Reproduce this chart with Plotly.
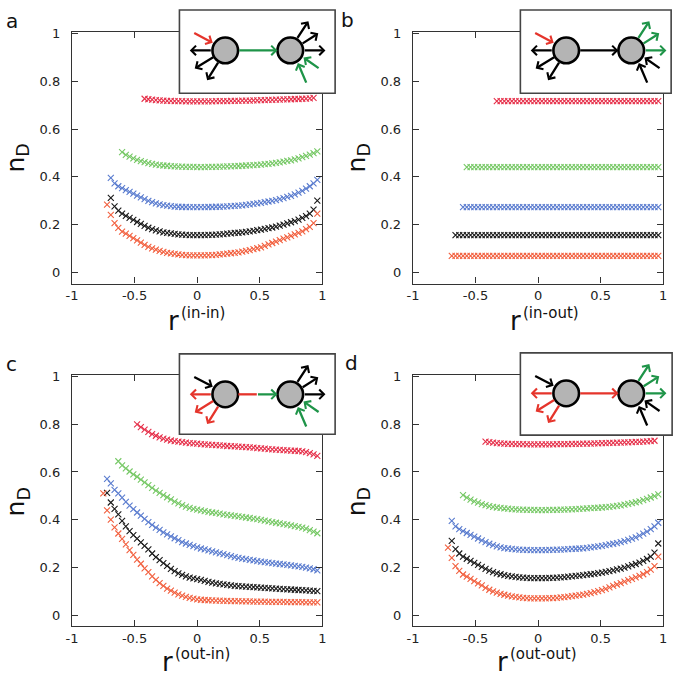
import plotly.graph_objects as go

W, H = 685, 678

# ---------------- data ----------------
r_grid = [-0.75, -0.72, -0.69, -0.66, -0.63, -0.60, -0.57, -0.54, -0.51, -0.48,
          -0.45, -0.42, -0.39, -0.36, -0.33, -0.30, -0.27, -0.24, -0.21, -0.18,
          -0.15, -0.12, -0.09, -0.06, -0.03, 0.00, 0.03, 0.06, 0.09, 0.12,
          0.15, 0.18, 0.21, 0.24, 0.27, 0.30, 0.33, 0.36, 0.39, 0.42,
          0.45, 0.48, 0.51, 0.54, 0.57, 0.60, 0.63, 0.66, 0.69, 0.72,
          0.75, 0.78, 0.81, 0.84, 0.87, 0.90, 0.93, 0.96]

x_ticks = [-1, -0.5, 0, 0.5, 1]
x_ticktext = ["-1", "-0.5", "0", "0.5", "1"]
y_ticks = [0, 0.2, 0.4, 0.6, 0.8, 1]
y_ticktext = ["0", "0.2", "0.4", "0.6", "0.8", "1"]

# panel a (in-in) and d (out-out): same curves
aa_red_start = -0.42
aa_red = [0.727, 0.725, 0.723, 0.721, 0.720, 0.719, 0.718, 0.718, 0.717, 0.717,
          0.717, 0.716, 0.716, 0.716, 0.716, 0.716, 0.716, 0.716, 0.716, 0.717,
          0.717, 0.717, 0.717, 0.718, 0.718, 0.718, 0.719, 0.719, 0.719, 0.720,
          0.720, 0.721, 0.721, 0.722, 0.722, 0.723, 0.723, 0.724, 0.724, 0.725,
          0.726, 0.726, 0.727, 0.728, 0.729, 0.731]
aa_green_start = -0.60
aa_green = [0.503, 0.492, 0.484, 0.477, 0.471, 0.465, 0.461, 0.457, 0.454, 0.451,
            0.449, 0.447, 0.446, 0.444, 0.443, 0.442, 0.442, 0.441, 0.441, 0.441,
            0.440, 0.440, 0.440, 0.441, 0.441, 0.441, 0.442, 0.442, 0.443, 0.443,
            0.444, 0.445, 0.446, 0.447, 0.448, 0.449, 0.450, 0.451, 0.453, 0.454,
            0.456, 0.458, 0.460, 0.463, 0.466, 0.469, 0.473, 0.477, 0.482, 0.487,
            0.493, 0.499, 0.506]
aa_blue_start = -0.69
aa_blue = [0.395, 0.372, 0.360, 0.352, 0.344, 0.336, 0.329, 0.321, 0.313, 0.306,
           0.299, 0.293, 0.288, 0.284, 0.281, 0.279, 0.277, 0.275, 0.274, 0.273,
           0.273, 0.272, 0.272, 0.272, 0.272, 0.272, 0.273, 0.273, 0.274, 0.274,
           0.275, 0.276, 0.277, 0.278, 0.279, 0.280, 0.282, 0.284, 0.286, 0.288,
           0.290, 0.293, 0.296, 0.299, 0.302, 0.306, 0.310, 0.315, 0.320, 0.326,
           0.333, 0.341, 0.350, 0.360, 0.372, 0.387]
aa_black_start = -0.69
aa_black = [0.311, 0.276, 0.258, 0.245, 0.236, 0.227, 0.219, 0.210, 0.202, 0.194,
            0.186, 0.180, 0.175, 0.171, 0.167, 0.164, 0.162, 0.160, 0.158, 0.157,
            0.156, 0.155, 0.155, 0.155, 0.155, 0.155, 0.156, 0.156, 0.157, 0.158,
            0.159, 0.161, 0.162, 0.164, 0.165, 0.167, 0.169, 0.171, 0.173, 0.176,
            0.178, 0.181, 0.184, 0.187, 0.191, 0.195, 0.199, 0.204, 0.209, 0.214,
            0.220, 0.227, 0.235, 0.245, 0.262, 0.300]
aa_orange_start = -0.72
aa_orange = [0.283, 0.240, 0.205, 0.185, 0.170, 0.161, 0.152, 0.142, 0.133, 0.124,
             0.114, 0.106, 0.099, 0.094, 0.089, 0.085, 0.081, 0.078, 0.076, 0.074,
             0.072, 0.071, 0.070, 0.070, 0.070, 0.070, 0.070, 0.071, 0.071, 0.072,
             0.074, 0.075, 0.077, 0.079, 0.081, 0.083, 0.086, 0.089, 0.092, 0.096,
             0.100, 0.104, 0.110, 0.116, 0.122, 0.128, 0.134, 0.140, 0.146, 0.152,
             0.158, 0.164, 0.171, 0.180, 0.190, 0.205, 0.245]

# panel b (in-out): flat curves
b_red_start, b_red = -0.33, [0.717] * 44
b_green_start, b_green = -0.57, [0.440] * 52
b_blue_start, b_blue = -0.60, [0.272] * 53
b_black_start, b_black = -0.66, [0.155] * 55
b_orange_start, b_orange = -0.69, [0.068] * 56

# panel c (out-in)
c_red_start = -0.48
c_red = [0.800, 0.788, 0.778, 0.768, 0.759, 0.752, 0.745, 0.740, 0.736, 0.732,
         0.729, 0.727, 0.725, 0.723, 0.721, 0.720, 0.719, 0.717, 0.716, 0.715,
         0.714, 0.713, 0.712, 0.711, 0.709, 0.708, 0.707, 0.706, 0.705, 0.704,
         0.703, 0.702, 0.700, 0.699, 0.698, 0.696, 0.695, 0.694, 0.693, 0.692,
         0.691, 0.690, 0.689, 0.688, 0.686, 0.683, 0.679, 0.674, 0.668]
c_green_start = -0.63
c_green = [0.645, 0.628, 0.615, 0.602, 0.590, 0.580, 0.568, 0.556, 0.545, 0.533,
           0.522, 0.512, 0.503, 0.494, 0.485, 0.476, 0.468, 0.461, 0.455, 0.449,
           0.445, 0.442, 0.439, 0.436, 0.433, 0.430, 0.428, 0.425, 0.422, 0.420,
           0.418, 0.416, 0.414, 0.412, 0.409, 0.407, 0.404, 0.402, 0.399, 0.396,
           0.393, 0.390, 0.387, 0.384, 0.381, 0.379, 0.376, 0.373, 0.370, 0.367,
           0.362, 0.356, 0.350, 0.343]
c_blue_start = -0.72
c_blue = [0.571, 0.552, 0.525, 0.510, 0.492, 0.475, 0.459, 0.444, 0.430, 0.417,
          0.403, 0.390, 0.378, 0.367, 0.357, 0.347, 0.338, 0.330, 0.322, 0.314,
          0.306, 0.300, 0.294, 0.289, 0.284, 0.279, 0.275, 0.271, 0.267, 0.263,
          0.259, 0.255, 0.251, 0.247, 0.243, 0.240, 0.237, 0.234, 0.231, 0.229,
          0.226, 0.224, 0.222, 0.220, 0.218, 0.216, 0.214, 0.212, 0.210, 0.208,
          0.206, 0.204, 0.202, 0.199, 0.196, 0.192, 0.187]
c_black_start = -0.72
c_black = [0.512, 0.472, 0.445, 0.422, 0.395, 0.372, 0.352, 0.335, 0.320, 0.305,
           0.290, 0.275, 0.258, 0.243, 0.230, 0.218, 0.206, 0.194, 0.184, 0.175,
           0.168, 0.162, 0.157, 0.154, 0.151, 0.147, 0.143, 0.139, 0.136, 0.133,
           0.131, 0.129, 0.126, 0.124, 0.122, 0.121, 0.120, 0.119, 0.118, 0.117,
           0.116, 0.115, 0.114, 0.113, 0.112, 0.111, 0.110, 0.109, 0.108, 0.107,
           0.106, 0.105, 0.104, 0.103, 0.102, 0.101, 0.100]
c_orange_start = -0.75
c_orange = [0.510, 0.439, 0.400, 0.368, 0.342, 0.319, 0.296, 0.272, 0.252, 0.232,
            0.215, 0.196, 0.180, 0.162, 0.147, 0.134, 0.122, 0.111, 0.102, 0.094,
            0.087, 0.081, 0.076, 0.072, 0.069, 0.066, 0.064, 0.063, 0.062, 0.061,
            0.060, 0.060, 0.059, 0.059, 0.058, 0.058, 0.058, 0.057, 0.057, 0.057,
            0.056, 0.056, 0.056, 0.056, 0.055, 0.055, 0.055, 0.055, 0.055, 0.054,
            0.054, 0.054, 0.054, 0.054, 0.053, 0.053, 0.053, 0.053]

RED, GREEN, BLUE, BLACK, ORANGE = "#e6304a", "#76c865", "#5a7ccf", "#1a1a1a", "#f2603f"
ARED, AGREEN, ABLACK = "#e5342b", "#1e9448", "#000000"


def xs(start, n):
    i = r_grid.index(start)
    return r_grid[i:i + n]


panels = [
    dict(key="a", xa="x", ya="y", sup="(in-in)",
         series=[(aa_red_start, aa_red, RED), (aa_green_start, aa_green, GREEN),
                 (aa_blue_start, aa_blue, BLUE), (aa_black_start, aa_black, BLACK),
                 (aa_orange_start, aa_orange, ORANGE)]),
    dict(key="b", xa="x2", ya="y2", sup="(in-out)",
         series=[(b_red_start, b_red, RED), (b_green_start, b_green, GREEN),
                 (b_blue_start, b_blue, BLUE), (b_black_start, b_black, BLACK),
                 (b_orange_start, b_orange, ORANGE)]),
    dict(key="c", xa="x3", ya="y3", sup="(out-in)",
         series=[(c_red_start, c_red, RED), (c_green_start, c_green, GREEN),
                 (c_blue_start, c_blue, BLUE), (c_black_start, c_black, BLACK),
                 (c_orange_start, c_orange, ORANGE)]),
    dict(key="d", xa="x4", ya="y4", sup="(out-out)",
         series=[(aa_red_start, aa_red, RED), (aa_green_start, aa_green, GREEN),
                 (aa_blue_start, aa_blue, BLUE), (aa_black_start, aa_black, BLACK),
                 (aa_orange_start, aa_orange, ORANGE)]),
]

fig = go.Figure()
for p in panels:
    for start, ys, col in p["series"]:
        fig.add_trace(go.Scatter(
            x=xs(start, len(ys)), y=ys, mode="markers", showlegend=False,
            xaxis=p["xa"], yaxis=p["ya"], hoverinfo="skip",
            marker=dict(symbol="x-thin", size=6, color=col,
                        line=dict(width=1.1, color=col))))


def px(x):
    return x / W


def py(y):
    return 1 - y / H


FONT = "DejaVu Sans"
common = dict(showline=True, linecolor="#333", linewidth=1.4, mirror="allticks",
              ticks="inside", ticklen=6, tickwidth=1.3, tickcolor="#333",
              showgrid=False, zeroline=False,
              tickfont=dict(family=FONT, size=13, color="#222"))

# pixel boxes of the four plot areas (left, top, right, bottom)
areas = {"a": (67, 26, 321, 280), "b": (413, 26, 667, 280),
         "c": (67, 372, 321, 626), "d": (413, 372, 667, 626)}
axnames = {"a": ("xaxis", "yaxis", "x", "y"), "b": ("xaxis2", "yaxis2", "x2", "y2"),
           "c": ("xaxis3", "yaxis3", "x3", "y3"), "d": ("xaxis4", "yaxis4", "x4", "y4")}
lay = {}
for k, (l, t, r, b) in areas.items():
    xn, yn, xid, yid = axnames[k]
    lay[xn] = dict(common, domain=[px(l), px(r)], range=[-1, 1], anchor=yid,
                   tickvals=x_ticks, ticktext=x_ticktext, ticklabelstandoff=0)
    lay[yn] = dict(common, domain=[py(b), py(t)], range=[-0.048, 1.008], anchor=xid,
                   tickvals=y_ticks, ticktext=y_ticktext, ticklabelstandoff=8)

annotations = []
shapes = []

# axis titles and panel letters
title_pos = {  # r right edge, r center y, ylabel center x, ylabel center y, letter x, letter y
    "a": (177, 318, 11, 153, 6, 15),
    "b": (524, 318, 357, 153, 347, 14),
    "c": (170, 662, 11, 500, 6, 361),
    "d": (510, 662, 357, 500, 351, 360),
}
for p in panels:
    rx, ry, nx, ny, lx, ly = title_pos[p["key"]]
    annotations.append(dict(text="r", x=px(rx), y=py(ry), xref="paper", yref="paper",
                            xanchor="right", yanchor="middle", showarrow=False, borderpad=0,
                            font=dict(family=FONT, size=26, color="#111")))
    annotations.append(dict(text=p["sup"], x=px(rx), y=py(ry - 8), xref="paper", yref="paper",
                            xanchor="left", yanchor="middle", showarrow=False, borderpad=0,
                            font=dict(family=FONT, size=15, color="#111")))
    annotations.append(dict(text="n<sub>D</sub>", x=px(nx), y=py(ny), xref="paper", yref="paper",
                            xanchor="center", yanchor="middle", showarrow=False, textangle=-90,
                            font=dict(family=FONT, size=25, color="#111")))
    annotations.append(dict(text=p["key"], x=px(lx), y=py(ly), xref="paper", yref="paper",
                            xanchor="center", yanchor="middle", showarrow=False,
                            font=dict(family=FONT, size=20, color="#111")))

# insets: box (x0, y0, x1, y1) and colours
insets = {
    "a": dict(box=(176, 4, 334, 88), inL=ARED, outL=ABLACK, link=(AGREEN, AGREEN), outR=ABLACK, inR=AGREEN),
    "b": dict(box=(522, 4, 675, 88), inL=ARED, outL=ABLACK, link=(ABLACK, ABLACK), outR=AGREEN, inR=ABLACK),
    "c": dict(box=(176, 351, 334, 432), inL=ABLACK, outL=ARED, link=(ARED, AGREEN), outR=ABLACK, inR=AGREEN),
    "d": dict(box=(522, 350, 676, 433), inL=ABLACK, outL=ARED, link=(ARED, ARED), outR=AGREEN, inR=ABLACK),
}


def arrow(head, tail, color):
    annotations.append(dict(text="", x=px(head[0]), y=py(head[1]), xref="paper", yref="paper",
                            ax=tail[0] - head[0], ay=tail[1] - head[1],
                            axref="pixel", ayref="pixel", showarrow=True,
                            arrowhead=4, arrowsize=0.8, arrowwidth=2.3, arrowcolor=color))


RAD = 13
for k, ins in insets.items():
    x0, y0, x1, y1 = ins["box"]
    shapes.append(dict(type="rect", xref="paper", yref="paper", layer="above",
                       x0=px(x0), x1=px(x1), y0=py(y1), y1=py(y0),
                       fillcolor="white", line=dict(color="#444", width=1.6)))
    L = (x0 + 46.5, y0 + 40.8)
    R = (x0 + 112.5, y0 + 40.8)
    for c in (L, R):
        shapes.append(dict(type="circle", xref="paper", yref="paper", layer="above",
                           x0=px(c[0] - RAD), x1=px(c[0] + RAD),
                           y0=py(c[1] + RAD), y1=py(c[1] - RAD),
                           fillcolor="#b4b4b4", line=dict(color="black", width=2.6)))

    def rel(c, d):
        return (c[0] + d[0], c[1] + d[1])

    # incoming to left node
    arrow(rel(L, (-12.7, -7.7)), rel(L, (-32.7, -18.3)), ins["inL"])
    # outgoing from left node
    arrow(rel(L, (-36, 0)), rel(L, (-13.5, 0)), ins["outL"])
    arrow(rel(L, (-31, 18.3)), rel(L, (-11, 6)), ins["outL"])
    arrow(rel(L, (-18.4, 30)), rel(L, (-6.5, 11)), ins["outL"])
    # link
    c1, c2 = ins["link"]
    if c1 == c2:
        arrow(rel(R, (-13, 0)), rel(L, (13.3, 0)), c1)
    else:
        mid = (L[0] + 32, L[1])
        shapes.append(dict(type="line", xref="paper", yref="paper", layer="above",
                           x0=px(L[0] + 13.3), x1=px(mid[0]), y0=py(L[1]), y1=py(L[1]),
                           line=dict(color=c1, width=2.3)))
        arrow(rel(R, (-13, 0)), mid, c2)
    # outgoing from right node
    arrow(rel(R, (18.4, -29.5)), rel(R, (6.5, -11.2)), ins["outR"])
    arrow(rel(R, (28.4, -17.2)), rel(R, (11.3, -6.2)), ins["outR"])
    arrow(rel(R, (35.7, 0)), rel(R, (13.5, 0)), ins["outR"])
    # incoming to right node
    arrow(rel(R, (13.4, 7.2)), rel(R, (30, 18.8)), ins["inR"])
    arrow(rel(R, (7.7, 12.8)), rel(R, (16.7, 33.8)), ins["inR"])

fig.update_layout(width=W, height=H, margin=dict(l=0, r=0, t=0, b=0),
                  paper_bgcolor="white", plot_bgcolor="white",
                  annotations=annotations, shapes=shapes, **lay)

fig.write_html("out.html", config={"displayModeBar": False},
               post_script="document.body.style.margin='0';document.body.style.padding='0';")
